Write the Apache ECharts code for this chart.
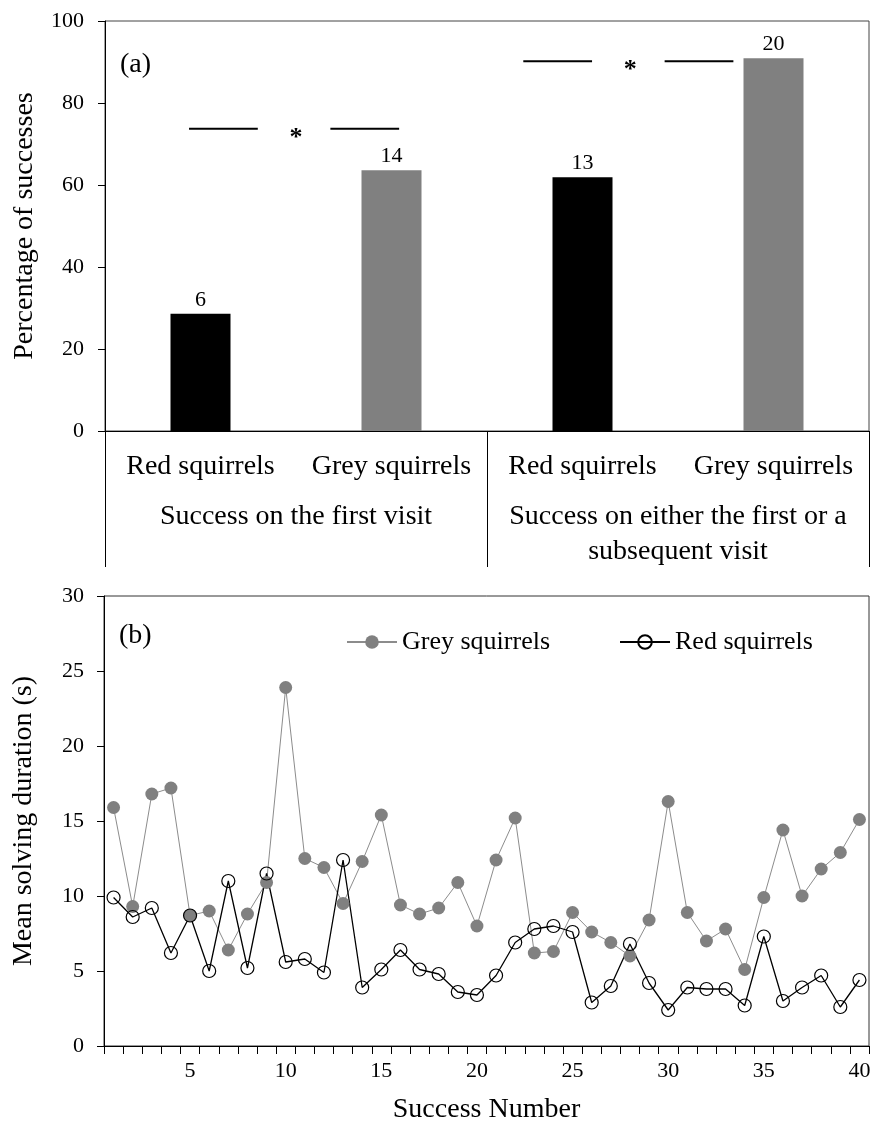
<!DOCTYPE html>
<html>
<head>
<meta charset="utf-8">
<script src="https://cdn.jsdelivr.net/npm/echarts@6/dist/echarts.min.js"></script>
<style>
  html, body { margin: 0; padding: 0; background: #ffffff; }
  #chart { width: 875px; height: 1131px; }
</style>
</head>
<body>
<div id="chart"></div>
<script>
// ---- Panel (a): percentage of squirrels that solved the feeder ----
const groupLabels = ['Red squirrels', 'Grey squirrels', 'Red squirrels', 'Grey squirrels'];
const conditionLabels = ['Success on the first visit', 'Success on either the first or a\nsubsequent visit'];
const successPct = [28.6, 63.6, 61.9, 90.9];
const successCounts = [6, 14, 13, 20];
const barColors = ['#000000', '#808080', '#000000', '#808080'];
// significance brackets: value level of each bracket
const sigLevels = [73.7, 90.2];

// ---- Panel (b): mean solving duration per success ----
const successNumber = ['1','2','3','4','5','6','7','8','9','10','11','12','13','14','15','16','17','18','19','20',
  '21','22','23','24','25','26','27','28','29','30','31','32','33','34','35','36','37','38','39','40'];
const greyDuration = [15.9, 9.3, 16.8, 17.2, 8.7, 9.0, 6.4, 8.8, 10.9, 23.9,
  12.5, 11.9, 9.5, 12.3, 15.4, 9.4, 8.8, 9.2, 10.9, 8.0,
  12.4, 15.2, 6.2, 6.3, 8.9, 7.6, 6.9, 6.0, 8.4, 16.3,
  8.9, 7.0, 7.8, 5.1, 9.9, 14.4, 10.0, 11.8, 12.9, 15.1];
const redDuration = [9.9, 8.6, 9.2, 6.2, 8.7, 5.0, 11.0, 5.2, 11.5, 5.6,
  5.8, 4.9, 12.4, 3.9, 5.1, 6.4, 5.1, 4.8, 3.6, 3.4,
  4.7, 6.9, 7.8, 8.0, 7.6, 2.9, 4.0, 6.8, 4.2, 2.4,
  3.9, 3.8, 3.8, 2.7, 7.3, 3.0, 3.9, 4.7, 2.6, 4.4];

const FONT = 'Liberation Serif';
const chart = echarts.init(document.getElementById('chart'), null, { renderer: 'canvas' });

const tickLabel = { color: '#000', fontFamily: FONT, fontSize: 22 };
const axisBlack = { lineStyle: { color: '#000', width: 1 } };

chart.setOption({
  animation: false,
  backgroundColor: '#ffffff',
  textStyle: { fontFamily: FONT, color: '#000' },
  title: [
    { text: '(a)', left: 115, top: 46, textStyle: { fontFamily: FONT, fontSize: 28, fontWeight: 'normal', color: '#000' } },
    { text: '(b)', left: 114, top: 617, textStyle: { fontFamily: FONT, fontSize: 28, fontWeight: 'normal', color: '#000' } }
  ],
  legend: {
    left: 341, top: 624,
    itemWidth: 50, itemHeight: 17, itemGap: 69,
    textStyle: { fontFamily: FONT, fontSize: 26, color: '#000' },
    data: ['Grey squirrels', 'Red squirrels']
  },
  grid: [
    { left: 105, right: 6, top: 21, bottom: 700, show: true, borderColor: '#444', borderWidth: 1, containLabel: false },
    { left: 104, right: 6, top: 596, bottom: 85, show: true, borderColor: '#333', borderWidth: 1, containLabel: false }
  ],
  xAxis: [
    {
      gridIndex: 0, type: 'category', data: groupLabels, position: 'bottom',
      axisLine: axisBlack, axisTick: { show: false },
      axisLabel: { color: '#000', fontFamily: FONT, fontSize: 28, lineHeight: 34, margin: 19, interval: 0 }
    },
    {
      gridIndex: 0, type: 'category', data: conditionLabels, position: 'bottom',
      axisLine: { show: false },
      axisTick: { show: true, length: 136, inside: false, interval: 0, lineStyle: { color: '#000', width: 1 } },
      axisLabel: { color: '#000', fontFamily: FONT, fontSize: 28, lineHeight: 35, margin: 68, interval: 0 }
    },
    {
      gridIndex: 1, type: 'category', data: successNumber,
      name: 'Success Number', nameLocation: 'middle', nameGap: 50,
      nameTextStyle: { fontFamily: FONT, fontSize: 28, color: '#000' },
      axisLine: axisBlack,
      axisTick: { show: true, interval: 0, length: 8, lineStyle: { color: '#000' } },
      axisLabel: Object.assign({}, tickLabel, { margin: 14, interval: function (idx) { return (idx + 1) % 5 === 0; } })
    }
  ],
  yAxis: [
    {
      gridIndex: 0, type: 'value', min: 0, max: 100, interval: 20,
      name: 'Percentage of successes', nameLocation: 'middle', nameGap: 66,
      nameTextStyle: { fontFamily: FONT, fontSize: 28, color: '#000' },
      axisLine: { show: true, lineStyle: { color: '#000' } },
      axisTick: { show: true, length: 7, lineStyle: { color: '#000' } },
      splitLine: { show: false },
      axisLabel: Object.assign({}, tickLabel, { margin: 21 })
    },
    {
      gridIndex: 1, type: 'value', min: 0, max: 30, interval: 5,
      name: 'Mean solving duration (s)', nameLocation: 'middle', nameGap: 66,
      nameTextStyle: { fontFamily: FONT, fontSize: 28, color: '#000' },
      axisLine: { show: true, lineStyle: { color: '#000' } },
      axisTick: { show: true, length: 7, lineStyle: { color: '#000' } },
      splitLine: { show: false },
      axisLabel: Object.assign({}, tickLabel, { margin: 20 })
    }
  ],
  series: [
    {
      type: 'bar', xAxisIndex: 0, yAxisIndex: 0, barWidth: 60,
      data: successPct.map((v, i) => ({ value: v, itemStyle: { color: barColors[i] } })),
      label: {
        show: true, position: 'top', distance: 3,
        fontFamily: FONT, fontSize: 22, color: '#000',
        formatter: p => String(successCounts[p.dataIndex])
      }
    },
    {
      name: 'Grey squirrels', type: 'line', xAxisIndex: 2, yAxisIndex: 1,
      data: greyDuration,
      symbol: 'circle', symbolSize: 13, showAllSymbol: true,
      itemStyle: { color: '#808080' },
      lineStyle: { color: '#8c8c8c', width: 1 }
    },
    {
      name: 'Red squirrels', type: 'line', xAxisIndex: 2, yAxisIndex: 1,
      data: redDuration,
      symbol: 'circle', symbolSize: 13, showAllSymbol: true,
      itemStyle: { color: 'rgba(0,0,0,0)', borderColor: '#000', borderWidth: 1.2 },
      lineStyle: { color: '#000', width: 1.3 }
    }
  ]
});

// Significance brackets above each pair of bars, placed along the category axis
// (fractional category positions for the two line segments and the asterisk)
const bracketLayout = [
  { segs: [[-0.06, 0.30], [0.68, 1.04]], star: 0.50 },
  { segs: [[1.69, 2.05], [2.43, 2.79]], star: 2.25 }
];
const graphics = [];
bracketLayout.forEach((b, k) => {
  const level = sigLevels[k];
  const p0 = chart.convertToPixel({ xAxisIndex: 0, yAxisIndex: 0 }, [0, level]);
  const p1 = chart.convertToPixel({ xAxisIndex: 0, yAxisIndex: 0 }, [1, level]);
  const step = p1[0] - p0[0];
  const px = f => p0[0] + f * step;
  b.segs.forEach(s => {
    graphics.push({
      type: 'line', silent: true,
      shape: { x1: px(s[0]), y1: p0[1], x2: px(s[1]), y2: p0[1] },
      style: { stroke: '#000', lineWidth: 2 }
    });
  });
  graphics.push({
    type: 'text', silent: true,
    x: px(b.star), y: p0[1] + 9,
    style: { text: '*', fontFamily: FONT, fontSize: 26, fontWeight: 'bold', fill: '#000', align: 'center', verticalAlign: 'middle' }
  });
});
chart.setOption({ graphic: graphics });
</script>
</body>
</html>
